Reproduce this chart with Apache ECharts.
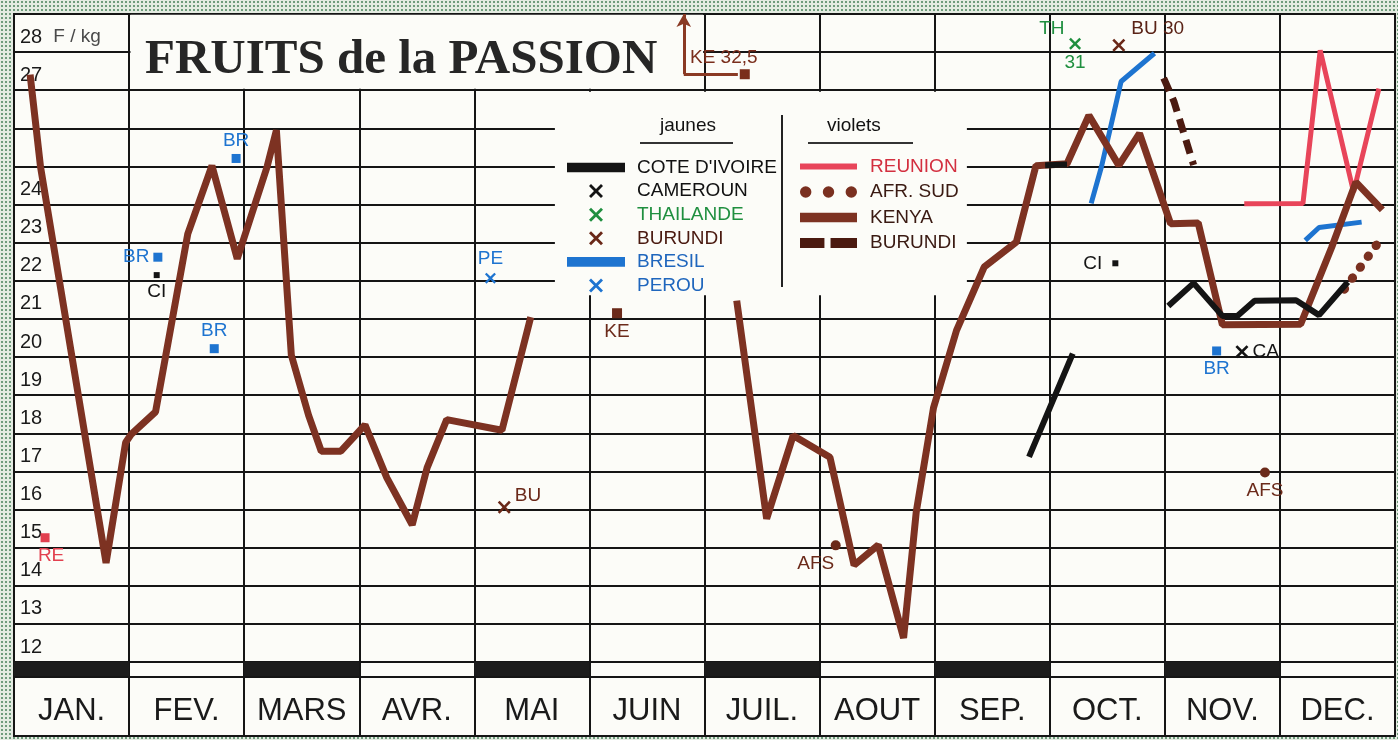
<!DOCTYPE html>
<html>
<head>
<meta charset="utf-8">
<title>Fruits de la passion</title>
<script src="https://cdn.jsdelivr.net/npm/echarts@6/dist/echarts.min.js"></script>
<style>
html, body { margin: 0; padding: 0; }
body {
    width: 1398px;
    height: 740px;
    overflow: hidden;
    background-color: #e3ebe1;
    background-image: radial-gradient(circle, #6e9b7b 0.9px, transparent 1.3px);
    background-size: 4px 4px;
}
#chart { width: 1398px; height: 740px; }
</style>
</head>
<body>
<div id="chart"></div>
<script>
// categories
const months = ['JAN.', 'FEV.', 'MARS', 'AVR.', 'MAI', 'JUIN', 'JUIL.', 'AOUT', 'SEP.', 'OCT.', 'NOV.', 'DEC.'];
const bandPattern = [1, 0, 1, 0, 1, 0, 1, 0, 1, 0, 1, 0];
const yLabelValues = [12, 13, 14, 15, 16, 17, 18, 19, 20, 21, 22, 23, 24, 27, 28];

// lines : [month position (0 = 1st of January), price F/kg], null = no price
const kenya = [
    [0.14, 27.41], [0.23, 25.0], [0.80, 14.6], [0.97, 17.76], [1.02, 17.98], [1.23, 18.56],
    [1.51, 23.23], [1.72, 25.02], [1.94, 22.58], [2.20, 25.0], [2.28, 25.95], [2.41, 20.05],
    [2.56, 18.47], [2.67, 17.53], [2.84, 17.53], [3.05, 18.22], [3.24, 16.83], [3.46, 15.6],
    [3.59, 17.1], [3.76, 18.36], [4.24, 18.08], [4.49, 21.05],
    [5.4, null],
    [6.28, 21.48], [6.54, 15.76], [6.77, 17.94], [7.09, 17.37], [7.30, 14.54], [7.51, 15.07],
    [7.73, 12.63], [7.84, 15.94], [7.99, 18.67], [8.19, 20.7], [8.43, 22.36], [8.71, 23.02],
    [8.88, 25.02], [9.15, 25.07], [9.34, 26.34], [9.60, 25.03], [9.78, 25.87], [10.01, 23.85],
    [10.05, 23.5], [10.29, 23.52], [10.50, 20.85], [11.18, 20.86], [11.45, 22.88], [11.66, 24.59],
    [11.89, 23.86]
];
const coteIvoire = [
    [8.82, 17.38], [9.20, 20.09], [9.1, null],
    [8.96, 25.03], [9.15, 25.05], [9.6, null],
    [10.03, 21.34], [10.25, 21.94], [10.50, 21.08], [10.63, 21.08], [10.78, 21.48],
    [11.14, 21.49], [11.34, 21.10], [11.59, 21.97]
];
const bresil = [
    [9.36, 24.03], [9.45, 25.0], [9.62, 27.23], [9.91, 27.97], [10.5, null],
    [11.22, 23.06], [11.34, 23.4], [11.71, 23.54]
];
const reunion = [[10.69, 24.02], [11.20, 24.03], [11.35, 28.05], [11.64, 24.33], [11.86, 27.04]];
const afrSud = [[11.56, 21.78], [11.87, 23.07]];
const burundiViolet = [[9.99, 27.32], [10.08, 26.7], [10.25, 25.04]];

// single prices
const reunionPts = [[0.27, 15.26]];
const bresilPts = [[1.25, 22.62], [1.74, 20.22], [1.93, 25.21], [10.45, 20.16]];
const ivoirePts = [[1.24, 22.15], [9.57, 22.46]];
const perouPts = [[4.14, 22.07]];
const burundiPts = [[4.26, 16.06]];
const kenyaPts = [[5.24, 21.15]];
const afrSudPts = [[7.14, 15.06], [10.87, 16.97]];
const camerounPts = [[10.67, 20.14]];

// prices above the scale, drawn at the top with an arrow
const offCodes = ['KE', 'TH', 'BU'];
const offMonths = [6.35, 9.22, 9.60];
const offValues = [32.5, 31, 30];
const offDrawY = [27.42, 28.22, 28.18];

const FONT = "'Liberation Sans', Arial, sans-serif";
const PAPER = '#fcfcf8';
const INK = '#151515';
const C_KENYA = '#7d3222';
const C_BURUNDI_V = '#4b1a10';
const C_AFS = '#7a3020';
const C_REUNION = '#e8455a';
const C_BRESIL = '#1e74d0';
const C_BLUE_TXT = '#1f66bd';
const C_CI = '#141414';
const C_THAI = '#1f8f3f';
const C_BU = '#6a2818';

const ICON_X = 'path://M2,0L7,5L12,0L14,2L9,7L14,12L12,14L7,9L2,14L0,12L5,7L0,2Z';
const ICON_LINE = 'path://M0,0H60V10H0Z';
const ICON_THIN = 'path://M0,0H56V6H0Z';
const ICON_DOTS = 'path://M0,5A5,5 0 1 1 10,5A5,5 0 1 1 0,5Z M20,5A5,5 0 1 1 30,5A5,5 0 1 1 20,5Z M40,5A5,5 0 1 1 50,5A5,5 0 1 1 40,5Z';
const ICON_DASH = 'path://M0,0H24V10H0Z M30,0H56V10H30Z';

const chart = echarts.init(document.getElementById('chart'));

function line(name, data, color, width, extra) {
    return Object.assign({
        name: name,
        type: 'line',
        xAxisIndex: 0,
        yAxisIndex: 0,
        data: data,
        color: color,
        showSymbol: false,
        symbol: 'none',
        connectNulls: false,
        silent: true,
        lineStyle: { color: color, width: width, join: 'bevel', cap: 'butt' }
    }, extra || {});
}

function points(name, data, text, color, symbol, size, positions, offsets) {
    return {
        name: name,
        type: 'scatter',
        xAxisIndex: 0,
        yAxisIndex: 0,
        z: 3,
        silent: true,
        color: color,
        symbol: symbol,
        symbolSize: size,
        itemStyle: { opacity: 1 },
        data: data.map(function (p, i) {
            return {
                value: p,
                label: { position: positions[i], offset: offsets ? offsets[i] : [0, 0] }
            };
        }),
        label: { show: true, formatter: text, color: color, fontSize: 19, fontFamily: FONT, distance: 4 }
    };
}

function arrowUp(i, color, from) {
    return {
        silent: true,
        symbol: ['none', 'arrow'],
        symbolSize: [11, 13],
        lineStyle: { color: color, width: 3, type: 'solid' },
        label: { show: false },
        data: [[{ coord: [offMonths[i], from] }, { coord: [offMonths[i], 29.1] }]]
    };
}

const option = {
    backgroundColor: 'transparent',
    animation: false,
    textStyle: { fontFamily: FONT },
    title: {
        text: 'FRUITS de la PASSION',
        left: 145,
        top: 36,
        padding: 0,
        textStyle: { fontFamily: "'Liberation Serif', serif", fontWeight: 'bold', fontSize: 49, color: '#262626' }
    },
    legend: [
        {
            orient: 'vertical',
            left: 562,
            top: 153,
            itemWidth: 58,
            itemHeight: 14,
            itemGap: 4.6,
            selectedMode: false,
            itemStyle: { borderWidth: 0 },
            textStyle: { fontSize: 19, lineHeight: 19, padding: [0, 0, 0, 7], fontFamily: FONT },
            data: [
                { name: "COTE D'IVOIRE", icon: ICON_LINE, textStyle: { color: '#111' } },
                { name: 'CAMEROUN', icon: ICON_X, textStyle: { color: '#111' } },
                { name: 'THAILANDE', icon: ICON_X, textStyle: { color: C_THAI } },
                { name: 'BURUNDI', icon: ICON_X, textStyle: { color: '#4a1a10' } },
                { name: 'BRESIL', icon: ICON_LINE, textStyle: { color: C_BLUE_TXT } },
                { name: 'PEROU', icon: ICON_X, textStyle: { color: C_BLUE_TXT } }
            ]
        },
        {
            orient: 'vertical',
            left: 795,
            top: 152,
            itemWidth: 57,
            itemHeight: 14,
            itemGap: 6.5,
            selectedMode: false,
            itemStyle: { borderWidth: 0 },
            textStyle: { fontSize: 19, lineHeight: 19, padding: [0, 0, 0, 8], fontFamily: FONT },
            data: [
                { name: 'REUNION', icon: ICON_THIN, textStyle: { color: '#d32f3f' } },
                { name: 'AFR. SUD', icon: ICON_DOTS, textStyle: { color: '#3a1a12' } },
                { name: 'KENYA', icon: ICON_LINE, textStyle: { color: '#3a1a12' } },
                { name: 'BURUNDI ', icon: ICON_DASH, textStyle: { color: '#3a1a12' } }
            ]
        }
    ],
    graphic: [
        { type: 'text', z: 100, left: 660, top: 116, style: { text: 'jaunes', font: '19px ' + FONT, fill: '#111' } },
        { type: 'line', z: 100, shape: { x1: 640, y1: 143, x2: 733, y2: 143 }, style: { stroke: '#333', lineWidth: 2 } },
        { type: 'text', z: 100, left: 827, top: 116, style: { text: 'violets', font: '19px ' + FONT, fill: '#111' } },
        { type: 'line', z: 100, shape: { x1: 808, y1: 143, x2: 913, y2: 143 }, style: { stroke: '#333', lineWidth: 2 } },
        { type: 'line', z: 100, shape: { x1: 782, y1: 115, x2: 782, y2: 287 }, style: { stroke: '#222', lineWidth: 2 } }
    ],
    grid: [
        { left: 14, right: 3, top: 14, bottom: 78, show: true, backgroundColor: PAPER, borderColor: INK, borderWidth: 2 },
        { left: 14, right: 3, top: 662, bottom: 4, show: true, backgroundColor: PAPER, borderColor: INK, borderWidth: 2 }
    ],
    xAxis: [
        {
            type: 'value',
            gridIndex: 0,
            min: 0,
            max: 12,
            interval: 1,
            axisLine: { show: false },
            axisTick: { show: false },
            axisLabel: { show: false },
            splitLine: { show: true, lineStyle: { color: INK, width: 2 } }
        },
        {
            type: 'category',
            gridIndex: 1,
            data: months,
            axisLine: { show: false },
            axisTick: { show: false },
            splitLine: { show: true, interval: 0, lineStyle: { color: INK, width: 2 } },
            axisLabel: { inside: true, margin: 9, fontSize: 31, color: '#1a1a1a', fontFamily: FONT, interval: 0 }
        }
    ],
    yAxis: [
        {
            type: 'value',
            gridIndex: 0,
            min: 12,
            max: 29,
            interval: 1,
            axisLine: { show: false },
            axisTick: { show: false },
            splitLine: { show: true, lineStyle: { color: INK, width: 2 } },
            axisLabel: {
                inside: true,
                margin: 6,
                verticalAlign: 'bottom',
                padding: [0, 0, 5, 0],
                fontSize: 20,
                color: '#1a1a1a',
                fontFamily: FONT,
                formatter: function (v) {
                    if (yLabelValues.indexOf(v) < 0) return '';
                    return v === 28 ? '{n|28}  {u|F / kg}' : String(v);
                },
                rich: {
                    n: { fontSize: 20, color: '#1a1a1a', fontFamily: FONT },
                    u: { fontSize: 19, color: '#4a4a4a', fontFamily: FONT }
                }
            }
        },
        { type: 'value', gridIndex: 1, min: 0, max: 74 / 15, inverse: true, show: false }
    ],
    series: [
        // white boxes for the title and the legend
        {
            type: 'line',
            xAxisIndex: 0,
            yAxisIndex: 0,
            data: [[0, null]],
            silent: true,
            z: 1,
            markArea: {
                silent: true,
                itemStyle: { color: PAPER, borderWidth: 0 },
                data: [
                    [{ xAxis: 1.012, yAxis: 27.04 }, { xAxis: 5.988, yAxis: 28.98 }],
                    [{ xAxis: 4.70, yAxis: 21.62 }, { xAxis: 8.28, yAxis: 26.96 }]
                ]
            }
        },
        // black band under the plot
        {
            type: 'bar',
            xAxisIndex: 1,
            yAxisIndex: 1,
            data: bandPattern,
            barWidth: '100%',
            silent: true,
            itemStyle: { color: '#1c1c1c' },
            markLine: {
                silent: true,
                symbol: 'none',
                label: { show: false },
                lineStyle: { color: INK, width: 2, type: 'solid' },
                data: [{ yAxis: 1 }]
            }
        },
        line('REUNION', reunion, C_REUNION, 5),
        line('BRESIL', bresil, C_BRESIL, 5),
        line('KENYA', kenya, C_KENYA, 7),
        line('BURUNDI ', burundiViolet, C_BURUNDI_V, 7, {
            lineStyle: { color: C_BURUNDI_V, width: 7, type: [14, 8] }
        }),
        line('AFR. SUD', afrSud, C_AFS, 9, {
            lineStyle: { color: C_AFS, width: 9, type: [0.5, 13], cap: 'round' }
        }),
        line("COTE D'IVOIRE", coteIvoire, C_CI, 6),

        points('REUNION', reunionPts, 'RE', '#e2404f', 'rect', 9, ['bottom'], [[6, 0]]),
        points('BRESIL', bresilPts, 'BR', C_BRESIL, 'rect', 9, ['left', 'top', 'top', 'bottom']),
        points("COTE D'IVOIRE", ivoirePts, 'CI', C_CI, 'rect', 6, ['bottom', 'left'], [[0, 0], [-6, 0]]),
        points('PEROU', perouPts, 'PE', C_BRESIL, ICON_X, 11, ['top']),
        points('BURUNDI', burundiPts, 'BU', C_BU, ICON_X, 13, ['right'], [[0, -11]]),
        points('KENYA', kenyaPts, 'KE', '#6b2a1a', 'rect', 10, ['bottom']),
        points('AFR. SUD', afrSudPts, 'AFS', '#6b2a1a', 'circle', 10, ['bottom', 'bottom'], [[-20, 0], [0, 0]]),
        points('CAMEROUN', camerounPts, 'CA', C_CI, ICON_X, 13, ['right']),

        // off-scale prices
        {
            name: 'KENYA',
            type: 'scatter',
            xAxisIndex: 0,
            yAxisIndex: 0,
            z: 3,
            silent: true,
            color: '#7a2e1c',
            symbol: 'rect',
            symbolSize: 10,
            itemStyle: { opacity: 1 },
            data: [[offMonths[0], offDrawY[0]]],
            label: {
                show: true,
                position: 'top',
                offset: [-21, 3],
                color: '#7a2e1c',
                fontSize: 19,
                formatter: offCodes[0] + ' ' + String(offValues[0]).replace('.', ',')
            },
            markLine: {
                silent: true,
                lineStyle: { color: '#8a3a24', width: 3, type: 'solid' },
                symbolSize: [11, 13],
                label: { show: false },
                data: [
                    [{ coord: [5.82, offDrawY[0]], symbol: 'none' }, { coord: [offMonths[0] - 0.06, offDrawY[0]], symbol: 'none' }],
                    [{ coord: [5.82, offDrawY[0]], symbol: 'none' }, { coord: [5.82, 29], symbol: 'arrow' }]
                ]
            }
        },
        {
            name: 'THAILANDE',
            type: 'scatter',
            xAxisIndex: 0,
            yAxisIndex: 0,
            z: 3,
            silent: true,
            color: C_THAI,
            symbol: ICON_X,
            symbolSize: 12,
            itemStyle: { opacity: 1 },
            data: [[offMonths[1], offDrawY[1]]],
            label: { show: true, position: 'bottom', distance: 4, color: C_THAI, fontSize: 19, formatter: String(offValues[1]) },
            markLine: arrowUp(1, C_THAI, offDrawY[1] + 0.2),
            markPoint: {
                silent: true,
                symbol: 'circle',
                symbolSize: 1,
                itemStyle: { color: 'rgba(0,0,0,0)' },
                label: { show: true, position: 'left', distance: 10, color: C_THAI, fontSize: 19, formatter: offCodes[1] },
                data: [{ coord: [offMonths[1], offDrawY[1] + 0.38] }]
            }
        },
        {
            name: 'BURUNDI',
            type: 'scatter',
            xAxisIndex: 0,
            yAxisIndex: 0,
            z: 3,
            silent: true,
            color: C_BU,
            symbol: ICON_X,
            symbolSize: 13,
            itemStyle: { opacity: 1 },
            data: [[offMonths[2], offDrawY[2]]],
            markLine: arrowUp(2, C_BU, offDrawY[2] + 0.2),
            markPoint: {
                silent: true,
                symbol: 'circle',
                symbolSize: 1,
                itemStyle: { color: 'rgba(0,0,0,0)' },
                label: { show: true, position: 'right', distance: 12, color: '#5a2316', fontSize: 19, formatter: offCodes[2] + ' ' + offValues[2] },
                data: [{ coord: [offMonths[2], offDrawY[2] + 0.42] }]
            }
        }
    ]
};

chart.setOption(option);

window.addEventListener('resize', function () {
    chart.resize();
});
</script>
</body>
</html>
